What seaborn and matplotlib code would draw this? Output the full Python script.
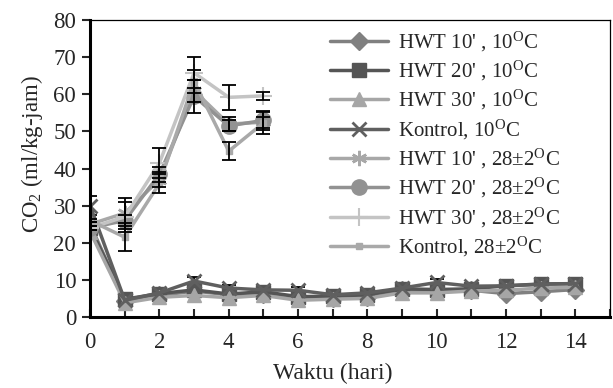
import numpy as np
import pandas as pd
import matplotlib
matplotlib.use("Agg")
import matplotlib.pyplot as plt
import seaborn as sns

# days for each storage temperature group
days_10 = list(range(0, 15))
days_28 = list(range(0, 6))

# respiration rate (ml CO2 / kg-jam), 10 C storage
hwt10_10 = [25.0, 4.3, 5.8, 7.0, 6.0, 6.3, 5.2, 5.2, 5.5, 7.2, 7.0, 7.2, 6.3, 6.8, 7.4]
hwt20_10 = [24.0, 4.8, 6.3, 7.3, 6.2, 6.8, 5.5, 5.6, 6.0, 7.6, 7.4, 7.6, 8.4, 8.9, 9.0]
hwt30_10 = [23.0, 3.8, 5.3, 5.8, 5.2, 5.8, 4.5, 4.8, 5.0, 6.5, 6.5, 7.0, 7.2, 7.8, 8.0]
kontrol_10 = [30.0, 4.5, 6.5, 9.7, 7.8, 7.3, 7.2, 6.0, 6.5, 7.8, 9.3, 8.3, 8.4, 8.8, 9.0]

# respiration rate, 28+-2 C storage
hwt10_28 = [25.0, 28.0, 37.0, 61.0, 52.0, 52.5]
hwt20_28 = [24.0, 26.0, 38.5, 59.5, 51.5, 53.0]
hwt30_28 = [24.0, 27.0, 41.5, 65.8, 59.2, 59.6]
kontrol_28 = [26.0, 21.5, 36.0, 63.5, 44.7, 52.3]

# standard deviations (error bars)
err_hwt10_10 = [0.5] * 15
err_hwt20_10 = [0.5] * 15
err_hwt30_10 = [0.5] * 15
err_kontrol_10 = [2.6, 0.6, 0.6, 1.0, 0.9, 0.6, 0.9, 0.5, 0.5, 0.5, 0.9, 0.9, 0.5, 0.5, 0.5]
err_hwt10_28 = [0.5, 4.2, 2.0, 3.0, 2.0, 1.5]
err_hwt20_28 = [0.5, 1.5, 2.0, 4.5, 1.5, 2.5]
err_hwt30_28 = [0.5, 4.0, 4.0, 4.2, 3.3, 1.0]
err_kontrol_28 = [0.5, 3.7, 2.5, 3.0, 2.4, 3.0]

deg = r"$^{\mathrm{O}}$C"
labels = [
    "HWT 10' , 10" + deg,
    "HWT 20' , 10" + deg,
    "HWT 30' , 10" + deg,
    "Kontrol, 10" + deg,
    "HWT 10' , 28\u00b12" + deg,
    "HWT 20' , 28\u00b12" + deg,
    "HWT 30' , 28\u00b12" + deg,
    "Kontrol, 28\u00b12" + deg,
]

series = [
    (days_10, hwt10_10, err_hwt10_10),
    (days_10, hwt20_10, err_hwt20_10),
    (days_10, hwt30_10, err_hwt30_10),
    (days_10, kontrol_10, err_kontrol_10),
    (days_28, hwt10_28, err_hwt10_28),
    (days_28, hwt20_28, err_hwt20_28),
    (days_28, hwt30_28, err_hwt30_28),
    (days_28, kontrol_28, err_kontrol_28),
]

styles = [
    dict(color="#808080", marker="D", ms=9),
    dict(color="#555555", marker="s", ms=10.5),
    dict(color="#a6a6a6", marker="^", ms=10.5),
    dict(color="#5f5f5f", marker="x", ms=10, mew=2),
    dict(color="#a8a8a8", marker=(6, 2, 0), ms=11, mew=1.8),
    dict(color="#929292", marker="o", ms=11),
    dict(color="#c4c4c4", marker="+", ms=13, mew=1.5),
    dict(color="#a9a9a9", marker="s", ms=4),
]

sns.set_theme(style="ticks")
plt.rcParams["font.family"] = ["Liberation Serif", "DejaVu Serif"]
plt.rcParams["mathtext.fontset"] = "custom"
plt.rcParams["mathtext.rm"] = "Liberation Serif"
plt.rcParams["mathtext.it"] = "Liberation Serif:italic"

fig = plt.figure(figsize=(6.13, 3.88), dpi=100)
ax = fig.add_axes([0.147, 0.183, 0.848, 0.765])

for i, ((x, y, e), lab, st) in enumerate(zip(series, labels, styles)):
    df = pd.DataFrame({"day": x, "co2": y})
    sns.lineplot(data=df, x="day", y="co2", ax=ax, color=st["color"], lw=2.5,
                 marker=st["marker"], markersize=st["ms"],
                 markeredgewidth=st.get("mew", 1.0),
                 markeredgecolor=st["color"], label=lab, zorder=2)
    # 10 C bars sit under the markers, 28 C bars on top
    ax.errorbar(x, y, yerr=e, fmt="none", ecolor="black", elinewidth=1.3,
                capsize=5, capthick=1.3, zorder=1.5 if i < 4 else 3)

ax.set_xlim(0, 15)
ax.set_ylim(0, 80)
ax.set_xticks(range(0, 16))
ax.set_xticklabels([str(i) if i % 2 == 0 and i < 15 else "" for i in range(0, 16)])
ax.set_yticks(range(0, 81, 10))
ax.tick_params(axis="x", direction="in", length=6, width=1.5, labelsize=16.5, pad=11)
ax.tick_params(axis="y", direction="out", length=6, width=1.5, labelsize=16.5, pad=4)

for side in ["left", "bottom"]:
    ax.spines[side].set_linewidth(2.2)
for side in ["top", "right"]:
    ax.spines[side].set_linewidth(0.9)
for s in ax.spines.values():
    s.set_color("black")

ax.set_xlabel("Waktu (hari)", fontsize=17, labelpad=0)
ax.xaxis.set_label_coords(0.467, -0.155)
ax.set_ylabel("CO$_2$ (ml/kg-jam)", fontsize=16.5, labelpad=4)
ax.yaxis.set_label_coords(-0.086, 0.55)

ax.legend(loc="upper left", bbox_to_anchor=(0.462, 0.968), frameon=False,
          fontsize=15, handlelength=2.75, labelspacing=0.25, handletextpad=0.5,
          borderaxespad=0, borderpad=0)

fig.savefig("out.png", dpi=100)
